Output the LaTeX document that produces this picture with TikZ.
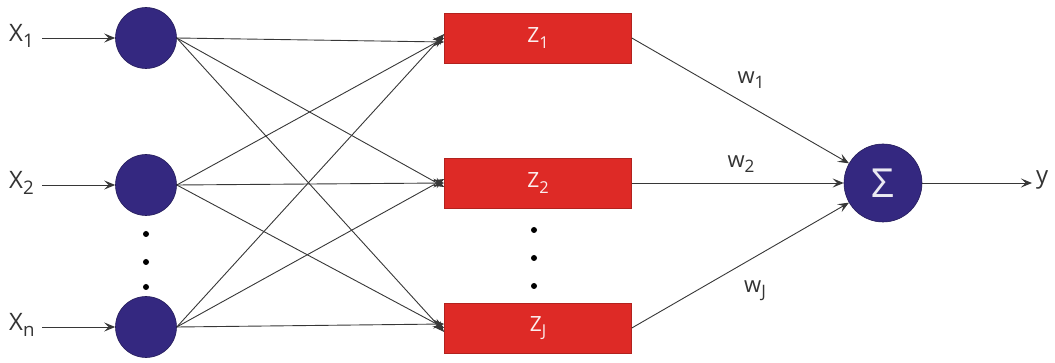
\documentclass[tikz,border=0pt]{standalone}
\usepackage{fontspec}
\setmainfont{Open Sans}
\usetikzlibrary{arrows.meta}
\definecolor{nodeblue}{RGB}{52,40,128}
\definecolor{boxred}{RGB}{222,42,38}
\definecolor{linegray}{RGB}{55,55,55}
\newcommand{\lsub}[1]{\raisebox{-0.45ex}{\scalebox{0.78}{#1}}}
\begin{document}
\begin{tikzpicture}[x=1pt,y=-1pt,
  inode/.style={circle,fill=nodeblue,draw=nodeblue!70!black,line width=0.6pt,minimum size=61pt,inner sep=0pt},
  sumnode/.style={circle,fill=nodeblue,draw=nodeblue!70!black,line width=0.6pt,minimum size=78pt,inner sep=0pt,text=white!90!nodeblue,font=\fontsize{40}{40}\selectfont\addfontfeatures{FakeBold=0}},
  zbox/.style={rectangle,fill=boxred,draw=boxred!80!black,line width=0.6pt,minimum width=187pt,minimum height=50pt,inner sep=0pt,text=white!92!boxred,font=\fontsize{21}{21}\selectfont},
  lbl/.style={inner sep=0pt,text=black!80,font=\fontsize{24}{24}\selectfont},
  wlbl/.style={inner sep=0pt,text=black!80,font=\fontsize{22}{22}\selectfont},
  conn/.style={draw=linegray,line width=0.9pt,-{Stealth[length=11pt,width=9pt,inset=4.5pt]}},
  dot/.style={circle,fill=black,inner sep=0pt,minimum size=6pt}]
\useasboundingbox (0,0) rectangle (1055,363);
% input nodes
\node[inode] (i1) at (146,38) {};
\node[inode] (i2) at (146,185) {};
\node[inode] (in) at (146,327) {};
% input labels
\node[lbl,anchor=west] (x1) at (9,36) {X\lsub{1}};
\node[lbl,anchor=west] (x2) at (9,183) {X\lsub{2}};
\node[lbl,anchor=west] (xn) at (9,325) {X\lsub{n}};
\coordinate (x1e) at (42,38);
\coordinate (x2e) at (42,185);
\coordinate (xne) at (42,327);
\draw[conn] (x1e) -- (i1);
\draw[conn] (x2e) -- (i2);
\draw[conn] (xne) -- (in);
% dots
\node[dot] (d1) at (146,234) {};
\node[dot] (d2) at (146,262) {};
\node[dot] (d3) at (146,287) {};
% hidden boxes
\node[zbox] (z1) at (538,38) {Z\lsub{1}};
\node[zbox] (z2) at (538,183) {Z\lsub{2}};
\node[zbox] (zj) at (538,328) {Z\lsub{J}};
\node[dot] (e1) at (534,230) {};
\node[dot] (e2) at (534,258) {};
\node[dot] (e3) at (534,286) {};
% connections input -> hidden
\foreach \s/\o in {i1/-4,i2/0,in/4}{
  \draw[conn] (\s.east) -- ([yshift=\o pt]z1.west);
  \draw[conn] (\s.east) -- ([yshift=\o pt]z2.west);
  \draw[conn] (\s.east) -- ([yshift=\o pt]zj.west);
}
% sum node
\node[sumnode] (s) at (883,183) {Σ};
\draw[conn] (z1.east) -- (s);
\draw[conn] (z2.east) -- (s);
\draw[conn] (zj.east) -- (s);
\coordinate (ye) at (1032,183);
\node[lbl,anchor=west] (y) at (1036,180) {y};
\draw[conn] (s) -- (ye);
% weights
\node[wlbl] (w1) at (751,80) {w\lsub{1}};
\node[wlbl] (w2) at (741,164) {w\lsub{2}};
\node[wlbl] (wj) at (755,291) {w\lsub{J}};
\end{tikzpicture}
\end{document}
